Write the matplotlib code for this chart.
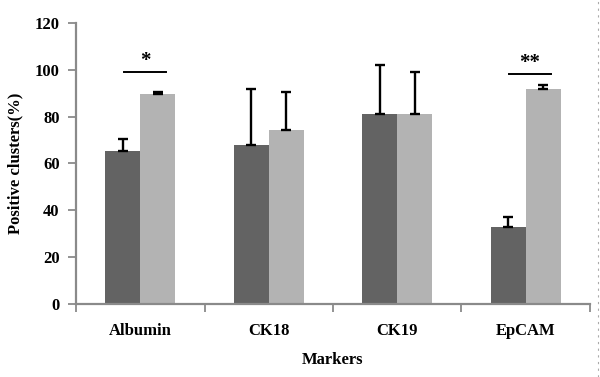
import matplotlib
matplotlib.use("Agg")
from matplotlib import pyplot as plt
from matplotlib.lines import Line2D

# data
markers = ["Albumin", "CK18", "CK19", "EpCAM"]
group_a = [65.5, 67.7, 81.3, 32.9]
group_a_err = [5.0, 24.0, 20.8, 4.0]
group_b = [89.7, 74.1, 81.3, 91.9]
group_b_err = [0.8, 16.5, 17.7, 1.5]
yticks = [0, 20, 40, 60, 80, 100, 120]
# significance marks: (category index, line height, label)
signif = [(0, 99.0, "*"), (3, 98.0, "**")]

dark = "#636363"
light = "#b3b3b3"
axis_gray = "#8a8a8a"
font = ["Liberation Serif", "DejaVu Serif"]

fig = plt.figure(figsize=(6, 3.77), dpi=100)
ax = fig.add_axes([0.127, 0.194, 0.856, 0.745])

w = 0.272
centers = [i + 0.5 for i in range(len(markers))]
xa = [c - w / 2 for c in centers]
xb = [c + w / 2 for c in centers]

ax.bar(xa, group_a, width=w, color=dark, zorder=2)
ax.bar(xb, group_b, width=w, color=light, zorder=2)

# upper-only error bars, capped at both ends
ax.errorbar(xa, group_a, yerr=[[0] * 4, group_a_err], fmt="none",
            ecolor="black", elinewidth=1.7, capsize=3.8, capthick=1.7, zorder=3)
ax.errorbar(xb, group_b, yerr=[[0] * 4, group_b_err], fmt="none",
            ecolor="black", elinewidth=1.7, capsize=3.8, capthick=1.7, zorder=3)

for idx, h, lab in signif:
    c = centers[idx]
    ax.plot([c - 0.13, c + 0.2], [h, h], color="black", lw=1.4)
    ax.text(c + 0.035, h + 0.5, lab, ha="center", va="bottom",
            fontsize=15, fontweight="bold", family=font)

ax.set_xlim(0, 4)
ax.set_ylim(0, 120)
ax.set_yticks(yticks)
ax.set_xticks([0, 1, 2, 3, 4])
ax.set_xticklabels([])
ax.set_xticks(centers, minor=True)
ax.set_xticklabels(markers, minor=True)
ax.tick_params(axis="x", which="minor", length=0, pad=14)
ax.tick_params(axis="x", which="major", length=6, color=axis_gray, width=1.3)
ax.tick_params(axis="y", length=6, color=axis_gray, width=1.3, pad=6)

for lab in ax.get_xticklabels(minor=True) + ax.get_yticklabels():
    lab.set_family(font)
    lab.set_fontweight("bold")
    lab.set_fontsize(12)

for s in ["top", "right"]:
    ax.spines[s].set_visible(False)
for s in ["left", "bottom"]:
    ax.spines[s].set_color(axis_gray)
    ax.spines[s].set_linewidth(1.6)

ax.set_ylabel("Positive clusters(%)", family=font, fontweight="bold",
              fontsize=12, labelpad=8)
ax.set_xlabel("Markers", family=font, fontweight="bold", fontsize=12,
              labelpad=9)

# dotted edge seen on the right side of the reference
fig.add_artist(Line2D([0.997, 0.997], [0, 1], transform=fig.transFigure,
                      color="#aaaaaa", lw=0.8, ls=(0, (2, 4))))

fig.savefig("out.png", dpi=100)
